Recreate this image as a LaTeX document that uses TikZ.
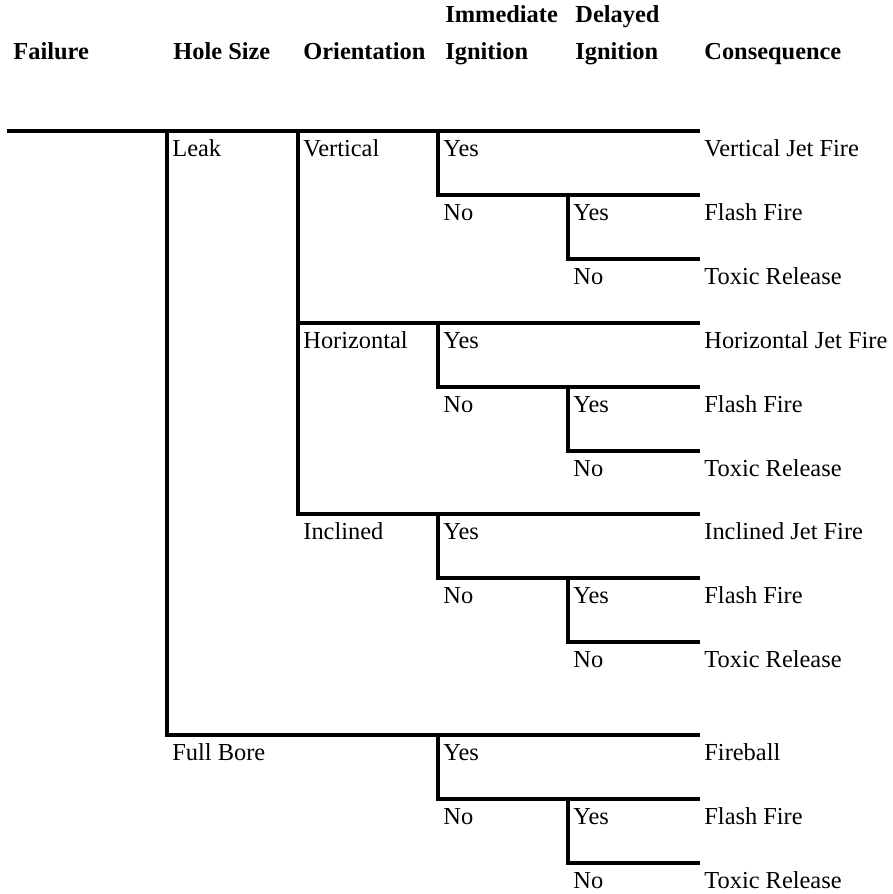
\documentclass[tikz,border=0pt]{standalone}
\usepackage{fontspec}
\setmainfont{Liberation Serif}
\usepackage{tikz}
\usetikzlibrary{positioning}

\begin{document}
\begin{tikzpicture}[
    x=0.5pt, y=-0.5pt,
    font=\fontsize{12.2}{14}\selectfont,
    branch/.style={line width=2pt, line join=miter},
    lbl/.style={anchor=base west, inner sep=0pt},
    head/.style={lbl, font=\fontsize{12.2}{14}\selectfont\bfseries}
]
\useasboundingbox (0,0) rectangle (893,894);

% Column headers
\node[head] (hd-fail) at (13,59) {Failure};
\node[head] (hd-hole) at (173,59) {Hole Size};
\node[head] (hd-orient) at (303,59) {Orientation};
\node[head] (hd-imm) at (445,23) {Immediate};
\node[head] (hd-imm2) at (445,59) {Ignition};
\node[head] (hd-del) at (575,23) {Delayed};
\node[head] (hd-del2) at (575,59) {Ignition};
\node[head] (hd-cons) at (704,59) {Consequence};

% Branch points
\coordinate (rim) at (700,0);
\coordinate (root) at (7,131);
\coordinate (leak) at (167,131);
\coordinate (bore) at (167,735);
\coordinate (vert) at (298,131);
\coordinate (hori) at (298,323);
\coordinate (incl) at (298,514);
\coordinate (vert-ii) at (438,131);
\coordinate (hori-ii) at (438,323);
\coordinate (incl-ii) at (438,514);
\coordinate (bore-ii) at (438,735);
\coordinate (vert-di) at (568,195);
\coordinate (hori-di) at (568,387);
\coordinate (incl-di) at (568,578);
\coordinate (bore-di) at (568,799);

% Tree
\draw[branch] (root) -- (root -| rim);
\draw[branch] (leak) |- (bore -| rim);
\draw[branch] (vert) |- (incl -| rim);
\draw[branch] (hori) -- (hori -| rim);
\draw[branch] (vert-ii) |- (vert-di -| rim);
\draw[branch] (hori-ii) |- (hori-di -| rim);
\draw[branch] (incl-ii) |- (incl-di -| rim);
\draw[branch] (bore-ii) |- (bore-di -| rim);
\draw[branch] (vert-di) -- ++(0,64) coordinate (vert-dn) -- (vert-dn -| rim);
\draw[branch] (hori-di) -- ++(0,64) coordinate (hori-dn) -- (hori-dn -| rim);
\draw[branch] (incl-di) -- ++(0,64) coordinate (incl-dn) -- (incl-dn -| rim);
\draw[branch] (bore-di) -- ++(0,64) coordinate (bore-dn) -- (bore-dn -| rim);

% Hole size and orientation
\node[lbl] (leak-txt) at ([shift={(5,25)}]leak) {Leak};
\node[lbl] (bore-txt) at ([shift={(5,25)}]bore) {Full Bore};
\node[lbl] (vert-txt) at ([shift={(5,25)}]vert) {Vertical};
\node[lbl] (hori-txt) at ([shift={(5,25)}]hori) {Horizontal};
\node[lbl] (incl-txt) at ([shift={(5,25)}]incl) {Inclined};

% Ignition outcomes
\node[lbl] (vert-iy) at ([shift={(5,25)}]vert-ii) {Yes};
\node[lbl] (vert-in) at (443,220) {No};
\node[lbl] (vert-dy) at ([shift={(5,25)}]vert-di) {Yes};
\node[lbl] (vert-dno) at ([shift={(5,25)}]vert-dn) {No};
\node[lbl] (hori-iy) at ([shift={(5,25)}]hori-ii) {Yes};
\node[lbl] (hori-in) at (443,412) {No};
\node[lbl] (hori-dy) at ([shift={(5,25)}]hori-di) {Yes};
\node[lbl] (hori-dno) at ([shift={(5,25)}]hori-dn) {No};
\node[lbl] (incl-iy) at ([shift={(5,25)}]incl-ii) {Yes};
\node[lbl] (incl-in) at (443,603) {No};
\node[lbl] (incl-dy) at ([shift={(5,25)}]incl-di) {Yes};
\node[lbl] (incl-dno) at ([shift={(5,25)}]incl-dn) {No};
\node[lbl] (bore-iy) at ([shift={(5,25)}]bore-ii) {Yes};
\node[lbl] (bore-in) at (443,824) {No};
\node[lbl] (bore-dy) at ([shift={(5,25)}]bore-di) {Yes};
\node[lbl] (bore-dno) at ([shift={(5,25)}]bore-dn) {No};

% Consequences
\node[lbl] (vert-c1) at (704,156) {Vertical Jet Fire};
\node[lbl] (vert-c2) at (704,220) {Flash Fire};
\node[lbl] (vert-c3) at (704,284) {Toxic Release};
\node[lbl] (hori-c1) at (704,348) {Horizontal Jet Fire};
\node[lbl] (hori-c2) at (704,412) {Flash Fire};
\node[lbl] (hori-c3) at (704,476) {Toxic Release};
\node[lbl] (incl-c1) at (704,539) {Inclined Jet Fire};
\node[lbl] (incl-c2) at (704,603) {Flash Fire};
\node[lbl] (incl-c3) at (704,667) {Toxic Release};
\node[lbl] (bore-c1) at (704,760) {Fireball};
\node[lbl] (bore-c2) at (704,824) {Flash Fire};
\node[lbl] (bore-c3) at (704,888) {Toxic Release};

\end{tikzpicture}
\end{document}
